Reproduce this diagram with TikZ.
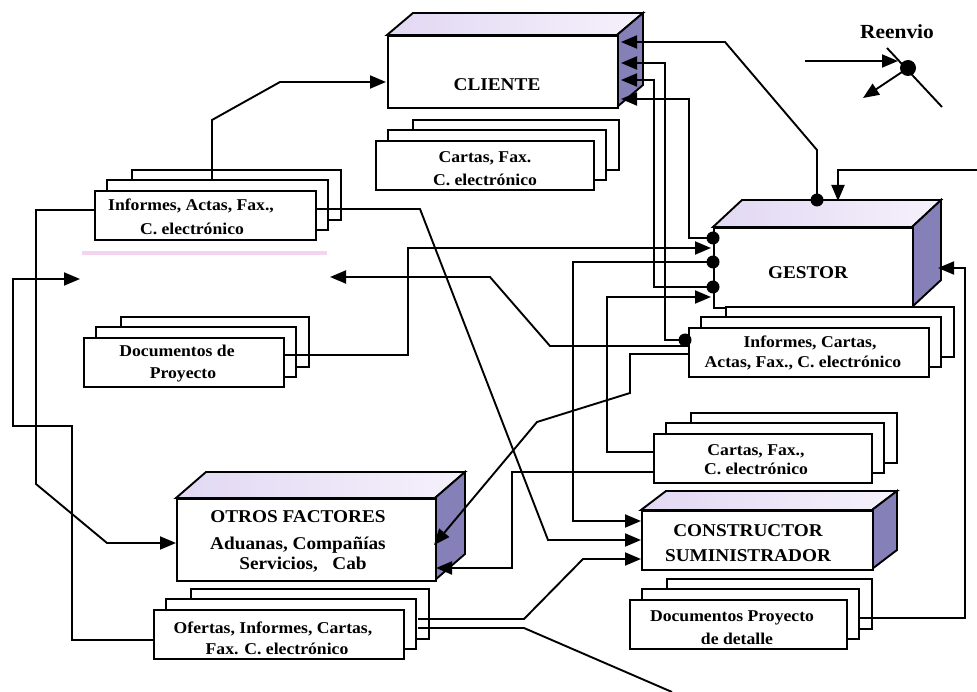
\documentclass[tikz,border=0pt]{standalone}
\usepackage{fontspec}
\setmainfont{Liberation Serif}[FakeStretch=1.07]
\usetikzlibrary{arrows.meta,calc}

\definecolor{sideface}{HTML}{8580B8}
\definecolor{topleft}{HTML}{E2D8F3}
\definecolor{topright}{HTML}{F5F1FB}
\definecolor{fadedpink}{HTML}{F4D4EE}

\tikzset{
  plain/.style={line width=1.9pt, line join=miter},
  conn/.style={plain, -{Triangle[length=16pt,width=13pt]}},
  sheet/.style={draw=black, fill=white, line width=1.9pt},
  topshade/.style={left color=topleft, right color=topright},
  title/.style={font=\fontsize{18}{20}\selectfont\bfseries, anchor=base, inner sep=0pt},
  doctext/.style={font=\fontsize{16.5}{20}\selectfont\bfseries, anchor=base, inner sep=0pt},
  dotc/.style={fill=black},
}

% 3D block: name, left, top, right, bottom, depth dx, depth dy (negative = up)
\newcommand{\drawsolidbox}[7]{%
  \shadedraw[topshade, plain] (#2,#3) -- ++(#6,#7) -- ++(#4-#2,0) -- (#4,#3) -- cycle;
  \filldraw[fill=sideface, plain] (#4,#3) -- ++(#6,#7) -- ++(0,#5-#3) -- (#4,#5) -- cycle;
  \pgfmathsetmacro{\solidw}{#4-#2}\pgfmathsetmacro{\solidh}{#5-#3}
  \node[sheet, minimum width=\solidw pt, minimum height=\solidh pt, inner sep=0pt,
        anchor=north west] (#1) at (#2,#3) {};
}

% stack of three sheets: name, left, top, right, bottom of the front sheet
\newcommand{\drawdocstack}[5]{%
  \draw[sheet] (#2+38,#3-20) rectangle (#4+26,#5-19);
  \draw[sheet] (#2+13,#3-10) rectangle (#4+13,#5-9);
  \pgfmathsetmacro{\docw}{#4-#2}\pgfmathsetmacro{\doch}{#5-#3}
  \node[sheet, minimum width=\docw pt, minimum height=\doch pt, inner sep=0pt,
        anchor=north west] (#1) at (#2,#3) {};
}

\begin{document}
\begin{tikzpicture}[x=1pt,y=-1pt]
\fill[white] (0,0) rectangle (977,692);
\useasboundingbox (0,0) rectangle (977,692);

% faint trace of an unlabelled block
\draw[fadedpink, line width=4pt] (82,253) -- (327,253);

% blocks
\drawsolidbox{cliente}{387}{35}{617}{107}{26}{-22}
\drawsolidbox{gestor}{713}{227}{912}{307}{29}{-27}
\drawsolidbox{otros}{176}{498}{435}{580}{30}{-26}
\drawsolidbox{constr}{641}{510}{872}{569}{25}{-19}

% document stacks
\drawdocstack{cartasA}{375}{140}{593}{189}
\drawdocstack{infA}{94}{190}{315}{239}
\drawdocstack{docproy}{83}{337}{283}{386}
\drawdocstack{infB}{688}{327}{928}{376}
\drawdocstack{cartasB}{653}{433}{871}{482}
\drawdocstack{docdet}{629}{599}{846}{648}
\drawdocstack{ofertas}{153}{609}{403}{658}

% block titles
\node[title] (t-cliente) at (497,91) {CLIENTE};
\node[title] (t-gestor) at (808,279) {GESTOR};
\node[title] (t-constr1) at (748,536) {CONSTRUCTOR};
\node[title] (t-constr2) at (748,561) {SUMINISTRADOR};
\node[title] (t-otros1) at (298,522) {OTROS FACTORES};
\node[title] (t-otros2) at (298,549) {Aduanas, Compañías};
\node[title] (t-otros3) at (303,569) {Servicios,\ \ \ Cab};

% document texts
\node[doctext] (tA1) at (485,163) {Cartas, Fax.};
\node[doctext] (tA2) at (485,186) {C. electrónico};
\node[doctext] (tB1) at (191,211) {Informes, Actas, Fax.,};
\node[doctext] (tB2) at (192,235) {C. electrónico};
\node[doctext] (tC1) at (177,357) {Documentos de};
\node[doctext] (tC2) at (183,379) {Proyecto};
\node[doctext] (tD1) at (810,348) {Informes, Cartas,};
\node[doctext] (tD2) at (803,368) {Actas, Fax., C. electrónico};
\node[doctext] (tE1) at (756,455) {Cartas, Fax.,};
\node[doctext] (tE2) at (756,474) {C. electrónico};
\node[doctext] (tF1) at (732,621) {Documentos Proyecto};
\node[doctext] (tF2) at (737,644) {de detalle};
\node[doctext] (tG1) at (273,633) {Ofertas, Informes, Cartas,};
\node[doctext] (tG2) at (277,654) {Fax. C. electrónico};

% connection points
\coordinate (infA-top) at (212,180);
\coordinate (infA-left) at (94,210);
\coordinate (infA-right) at (315,209);
\coordinate (docproy-right) at (283,355);
\coordinate (infB-dot) at (685,340);
\coordinate (infB-l2) at (688,346);
\coordinate (infB-l3) at (688,354);
\coordinate (ofertas-left) at (153,640);
\coordinate (ofertas-r1) at (418,619);
\coordinate (ofertas-r2) at (418,628);
\coordinate (cartasB-l1) at (653,452);
\coordinate (cartasB-l2) at (653,472);
\coordinate (docdet-right) at (859,618);
\coordinate (gestor-d1) at (713,238);
\coordinate (gestor-d2) at (713,262);
\coordinate (gestor-d3) at (713,287);
\coordinate (gestor-in1) at (711,248);
\coordinate (gestor-in2) at (711,297);
\coordinate (gestor-top) at (817,200);
\coordinate (gestor-topin) at (838,201);
\coordinate (gestor-side) at (938,268);
\coordinate (cliente-left) at (386,82);
\coordinate (cliente-r1) at (621,42);
\coordinate (cliente-r2) at (621,63);
\coordinate (cliente-r3) at (621,80);
\coordinate (cliente-r4) at (621,99);
\coordinate (otros-left) at (176,543);
\coordinate (otros-r1) at (434,545);
\coordinate (otros-r2) at (436,568);
\coordinate (constr-l1) at (641,521);
\coordinate (constr-l2) at (641,540);
\coordinate (constr-l3) at (641,559);
\coordinate (blank-left) at (80,279);
\coordinate (blank-right) at (330,277);
\coordinate (edge-right) at (977,170);
\coordinate (edge-bottom) at (672,692);

% connectors
\draw[conn] (infA-top) -- (212,120) -- (280,82) -- (cliente-left);
\draw[conn] (infA-left) -- (36,210) -- (36,484) -- (107,543) -- (otros-left);
\draw[conn] (infA-right) -- (420,209) -- (548,540) -- (constr-l2);
\draw[conn] (docproy-right) -- (408,355) -- (408,248) -- (gestor-in1);
\draw[conn] (infB-l2) -- (550,346) -- (490,277) -- (blank-right);
\draw[conn] (ofertas-left) -- (72,640) -- (72,426) -- (13,426) -- (13,279) -- (blank-left);
\draw[conn] (infB-l3) -- (630,354) -- (630,393) -- (537,422) -- (otros-r1);
\draw[conn] (cartasB-l2) -- (512,472) -- (512,568) -- (otros-r2);
\draw[conn] (cartasB-l1) -- (607,452) -- (607,297) -- (gestor-in2);
\draw[conn] (gestor-d2) -- (573,262) -- (573,521) -- (constr-l1);
\draw[conn] (ofertas-r1) -- (524,619) -- (583,559) -- (constr-l3);
\draw[plain] (ofertas-r2) -- (524,628) -- (edge-bottom);
\draw[conn] (docdet-right) -- (965,618) -- (965,268) -- (gestor-side);
\draw[conn] (gestor-top) -- (817,150) -- (725,42) -- (cliente-r1);
\draw[conn] (infB-dot) -- (665,340) -- (665,63) -- (cliente-r2);
\draw[conn] (gestor-d3) -- (654,287) -- (654,80) -- (cliente-r3);
\draw[conn] (gestor-d1) -- (689,238) -- (689,99) -- (cliente-r4);
\draw[conn] (edge-right) -- (838,170) -- (gestor-topin);

% origin dots
\foreach \p in {infB-dot, gestor-d1, gestor-d2, gestor-d3, gestor-top}
  \fill[dotc] (\p) circle[radius=6.5pt];

% legend
\node[font=\fontsize{20}{22}\selectfont\bfseries, inner sep=0pt, anchor=base] (reenvio) at (897,39) {Reenvio};
\coordinate (leg-in) at (805,61);
\coordinate (leg-hit) at (898,61);
\coordinate (leg-dot) at (908,68);
\coordinate (leg-a) at (887,48);
\coordinate (leg-b) at (942,107);
\coordinate (leg-out) at (863,98);
\draw[conn] (leg-in) -- (leg-hit);
\draw[plain] (leg-a) -- (leg-b);
\fill[dotc] (leg-dot) circle[radius=8pt];
\draw[conn] (leg-dot) -- (leg-out);
\end{tikzpicture}
\end{document}
